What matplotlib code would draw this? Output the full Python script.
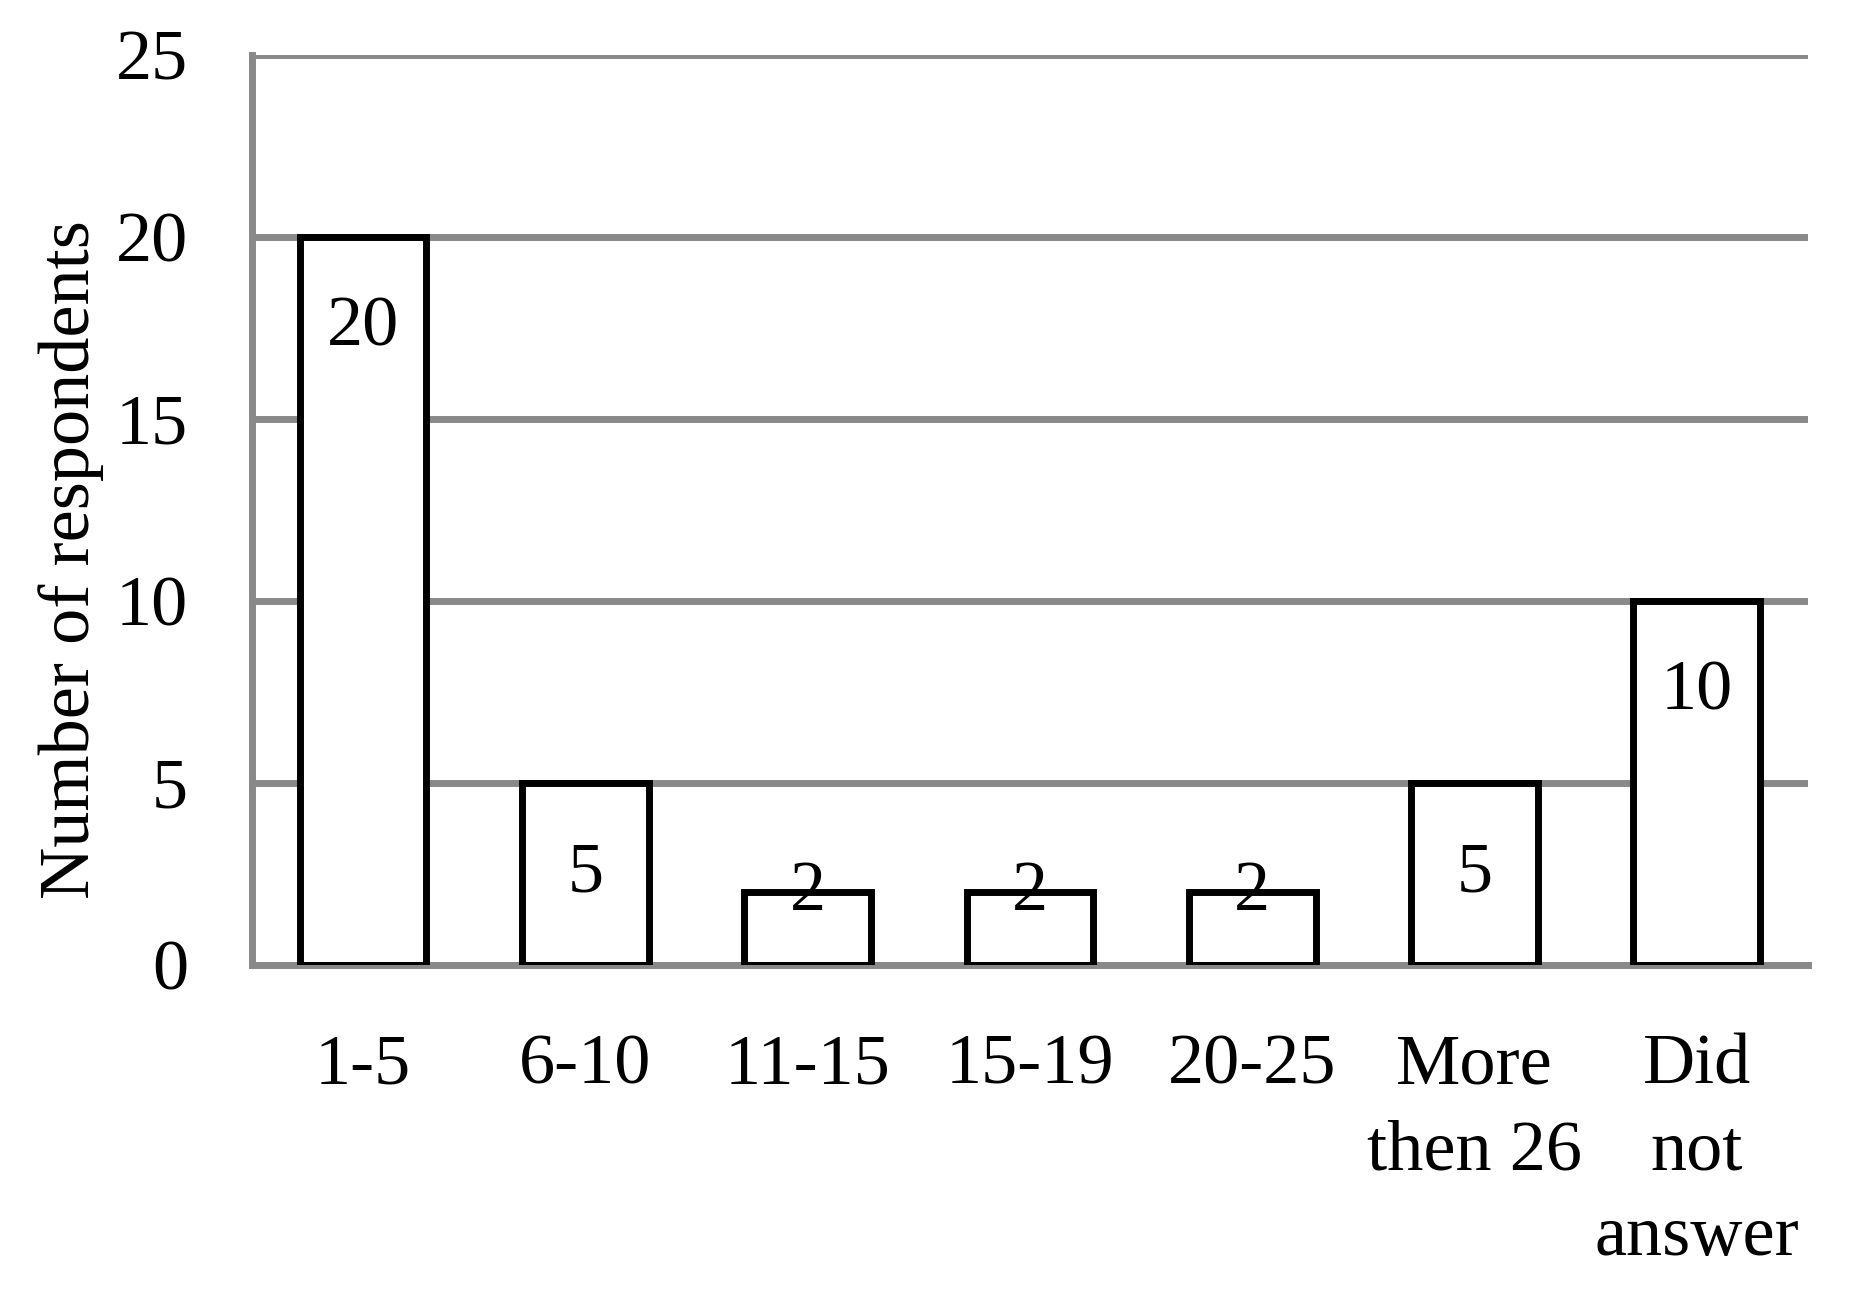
import matplotlib
matplotlib.use('Agg')
import matplotlib.pyplot as plt

categories = ['1-5', '6-10', '11-15', '15-19', '20-25', 'More\nthen 26', 'Did\nnot\nanswer']
respondents = [20, 5, 2, 2, 2, 5, 10]
yticks = [0, 5, 10, 15, 20, 25]

plt.rcParams['font.family'] = ['Liberation Serif', 'DejaVu Serif']
grey = '#898989'
fs = 52

fig = plt.figure(figsize=(18.53, 12.97), dpi=100)
ax = fig.add_axes([0.136, 0.256, 0.8397, 0.7016])

x = list(range(len(categories)))
ax.bar(x, respondents, width=0.57, color='white', edgecolor='black',
       linewidth=5, zorder=3)

# value labels inside the top of each bar
for xi, v in zip(x, respondents):
    y = v - 2.5 if v > 4 else v
    ax.text(xi, y, str(v), ha='center', va='center', fontsize=fs, zorder=4)

ax.set_xlim(-0.5, len(categories) - 0.5)
ax.set_ylim(0, 25)
ax.set_yticks(yticks)
ax.yaxis.grid(True, color=grey, linewidth=5, zorder=1)
ax.set_axisbelow(True)

for s in ['top', 'right']:
    ax.spines[s].set_visible(False)
for s in ['left', 'bottom']:
    ax.spines[s].set_color(grey)
    ax.spines[s].set_linewidth(5)
    ax.spines[s].set_zorder(2)

ax.set_xticks(x)
ax.set_xticklabels(categories, fontsize=fs, linespacing=1.42, va='top')
ax.tick_params(axis='both', length=0, labelsize=fs)
ax.tick_params(axis='x', pad=49)
ax.tick_params(axis='y', pad=46)

ax.set_ylabel('Number of respondents', fontsize=fs)
ax.yaxis.set_label_coords(-0.095, 0.445)

fig.savefig('out.png', dpi=100)
